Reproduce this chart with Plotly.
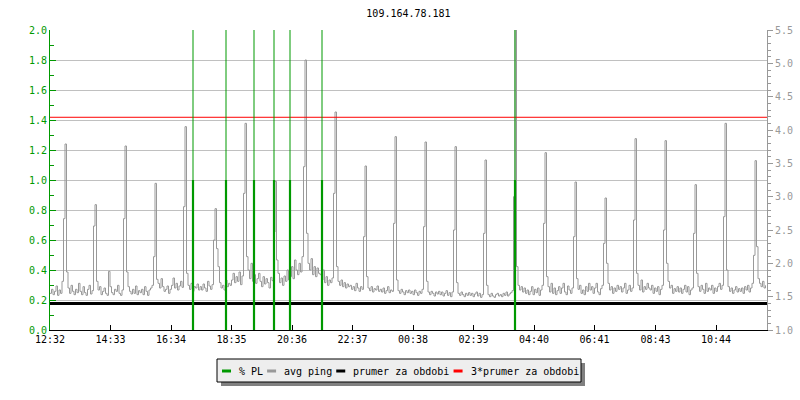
import plotly.graph_objects as go

# ---------------- data ----------------
title_text = "109.164.78.181"
start_label = "12:32"
sample_step_min = 3          # minutes between ping samples
x_span_min = 1434            # visible time span in minutes

# avg ping (right axis), one row per hour, values x100
ping_rows = [
    [155,161,153,158,166,152,160,155,173,267,379,187,163,155,167,158,153,161,156,170],
    [158,153,165,156,152,161,167,154,159,256,288,173,160,165,153,158,163,155,152,188],
    [165,156,153,161,158,167,155,152,160,267,376,187,165,158,154,161,155,166,153,159],
    [156,161,153,165,158,152,160,163,167,210,320,176,170,163,177,165,158,161,166,155],
    [161,167,178,163,170,160,166,173,164,285,405,185,167,161,170,158,165,163,169,160],
    [165,160,169,163,158,173,166,161,168,235,282,222,195,171,163,167,160,175,165,170],
    [167,175,185,171,180,173,187,168,181,305,410,210,190,177,200,173,183,170,177,185],
    [173,165,180,169,177,171,163,179,174,247,323,205,185,171,178,167,181,173,190,175],
    [180,195,177,205,190,183,200,187,210,345,505,245,200,190,207,183,195,180,193,185],
    [183,175,190,171,180,167,175,171,178,305,427,195,173,167,175,165,171,163,169,165],
    [167,161,165,159,170,163,158,165,161,240,346,180,163,159,165,157,162,160,166,158],
    [161,157,163,155,159,165,156,160,158,260,390,175,159,155,161,157,153,159,156,160],
    [155,158,153,160,156,152,158,155,161,255,382,173,157,153,158,155,151,157,154,158],
    [153,157,151,155,159,152,156,150,157,250,375,171,155,152,157,153,150,155,152,156],
    [152,155,150,154,157,151,155,149,153,245,355,167,153,150,155,151,149,153,155,151],
    [153,150,155,152,157,151,154,156,159,300,700,195,167,160,165,157,163,155,160,153],
    [158,165,153,161,156,163,152,160,167,260,366,180,165,157,170,155,163,153,159,165],
    [155,163,170,157,153,166,160,155,163,240,322,177,161,167,155,160,153,165,158,170],
    [160,165,155,163,170,157,153,162,167,230,298,200,170,160,165,155,163,158,167,161],
    [165,157,163,170,155,160,167,158,163,265,387,185,167,160,175,157,165,161,170,163],
    [160,167,155,163,158,165,153,161,167,250,384,200,173,163,167,155,162,158,165,157],
    [163,155,161,167,157,165,153,160,163,245,318,185,165,158,167,161,155,170,158,163],
    [160,167,155,163,158,165,170,161,167,270,410,190,165,158,163,155,160,165,157,162],
    [158,163,155,165,160,167,157,163,170,212,354,225,177,170,165,173,163,167],
]
ping_avg = 1.397             # "prumer za obdobi"
ping_avg_factor = 3          # "3*prumer za obdobi"

# packet loss events (minutes after start), loss value and overshoot value
pl_minutes = [286, 352, 408, 448, 480, 544, 930]
pl_loss = [1.0, 1.0, 1.0, 1.0, 1.0, 1.0, 1.0]
pl_peak = [10.0, 10.0, 10.0, 10.0, 10.0, 10.0, 10.0]

tick_labels = ["12:32", "14:33", "16:34", "18:35", "20:36", "22:37",
               "00:38", "02:39", "04:40", "06:41", "08:43", "10:44"]

series_names = ["% PL", "avg ping", "prumer za obdobi", "3*prumer za obdobi"]
series_colors = ["#009900", "#999999", "#000000", "#ff0000"]

# ---------------- derived ----------------
ping = [v / 100 for row in ping_rows for v in row]
ping_t = [i * sample_step_min for i in range(len(ping))]


def minutes_of(lbl):
    h, m = lbl.split(":")
    return int(h) * 60 + int(m)


t0 = minutes_of(start_label)
tick_vals = [(minutes_of(l) - t0) % 1440 for l in tick_labels]

pl_x, pl_y_loss, pl_y_peak = [], [], []
for t, lo, pk in zip(pl_minutes, pl_loss, pl_peak):
    pl_x += [t, t, None]
    pl_y_loss += [0, lo, None]
    pl_y_peak += [0, pk, None]

FONT = "DejaVu Sans Mono"
W, H = 800, 400
ML, MR, MT, MB = 50, 33, 30, 70
PW, PH = W - ML - MR, H - MT - MB


def px(x):
    return (x - ML) / PW


def py(y):
    return (H - MB - y) / PH


fig = go.Figure()

# ping, averages on primary (right-side) axis
fig.add_trace(go.Scatter(x=ping_t, y=ping, mode="lines", yaxis="y",
                         line=dict(color=series_colors[1], width=1, shape="hv"),
                         name=series_names[1], showlegend=False))
fig.add_trace(go.Scatter(x=[0, x_span_min], y=[ping_avg, ping_avg], mode="lines",
                         yaxis="y", line=dict(color=series_colors[2], width=3),
                         name=series_names[2], showlegend=False))
fig.add_trace(go.Scatter(x=[0, x_span_min],
                         y=[ping_avg * ping_avg_factor, ping_avg * ping_avg_factor],
                         mode="lines", yaxis="y",
                         line=dict(color=series_colors[3], width=1),
                         name=series_names[3], showlegend=False))
# packet loss on left axis
fig.add_trace(go.Scatter(x=pl_x, y=pl_y_peak, mode="lines", yaxis="y2",
                         line=dict(color=series_colors[0], width=1),
                         name=series_names[0], showlegend=False))
fig.add_trace(go.Scatter(x=pl_x, y=pl_y_loss, mode="lines", yaxis="y2",
                         line=dict(color=series_colors[0], width=2.2),
                         name=series_names[0], showlegend=False))

# ---------------- legend (drawn box with shadow) ----------------
shapes = []
annotations = []
box = (217, 359, 581, 382)
sh = 4
shapes.append(dict(type="rect", xref="paper", yref="paper",
                   x0=px(box[0] + sh), x1=px(box[2] + sh),
                   y0=py(box[1] + sh), y1=py(box[3] + sh),
                   fillcolor="#808080", line=dict(width=0), layer="above"))
shapes.append(dict(type="rect", xref="paper", yref="paper",
                   x0=px(box[0]), x1=px(box[2]), y0=py(box[1]), y1=py(box[3]),
                   fillcolor="#eeeeee", line=dict(color="#000000", width=1),
                   layer="above"))
char_w = 6.02
cx = 222
cy = 371
for name, col in zip(series_names, series_colors):
    shapes.append(dict(type="line", xref="paper", yref="paper",
                       x0=px(cx), x1=px(cx + 9), y0=py(cy), y1=py(cy),
                       line=dict(color=col, width=3), layer="above"))
    annotations.append(dict(xref="paper", yref="paper", x=px(cx + 15), y=py(cy),
                            xanchor="left", yanchor="middle", showarrow=False,
                            text=name, font=dict(family=FONT, size=10, color="#000000")))
    cx = cx + 15 + len(name) * char_w + 6

fig.update_layout(
    width=W, height=H,
    margin=dict(l=ML, r=MR, t=MT, b=MB, autoexpand=False),
    paper_bgcolor="#ffffff", plot_bgcolor="#ffffff",
    font=dict(family=FONT, size=10, color="#000000"),
    title=dict(text=title_text, x=px(ML + PW / 2), xref="paper", xanchor="center",
               y=1 - 13.5 / H, yref="container", yanchor="middle", automargin=False,
               font=dict(family=FONT, size=10, color="#000000")),
    showlegend=False,
    xaxis=dict(range=[0, x_span_min], tickvals=tick_vals, ticktext=tick_labels,
               ticks="inside", ticklen=5, tickcolor="#000000", showline=True,
               linecolor="#000000", linewidth=1, showgrid=False, zeroline=False,
               automargin=False,
               tickfont=dict(family=FONT, size=10, color="#000000")),
    yaxis=dict(range=[1.0, 5.5], side="right", dtick=0.5, tick0=1.0, tickformat=".1f",
               ticks="outside", ticklen=5, tickcolor="#999999", showline=True,
               linecolor="#999999", linewidth=1, showgrid=False, zeroline=False,
               automargin=False,
               tickfont=dict(family=FONT, size=10, color="#999999"),
               minor=dict(dtick=0.1, tick0=1.0, ticks="outside", ticklen=3,
                          tickcolor="#999999", showgrid=False)),
    yaxis2=dict(range=[0, 2.0], side="left", overlaying="y", anchor="x",
                dtick=0.2, tick0=0, tickformat=".1f",
                ticks="inside", ticklen=6, tickcolor="#009900", showline=True,
                linecolor="#009900", linewidth=1, showgrid=True, gridcolor="#c0c0c0",
                gridwidth=1, zeroline=False, automargin=False,
                tickfont=dict(family=FONT, size=10, color="#009900"),
                minor=dict(dtick=0.1, tick0=0, ticks="inside", ticklen=4,
                           tickcolor="#009900", showgrid=False)),
    shapes=shapes,
    annotations=annotations,
)

fig.write_html("out.html", config={"displayModeBar": False},
               post_script="document.body.style.margin='0';")
